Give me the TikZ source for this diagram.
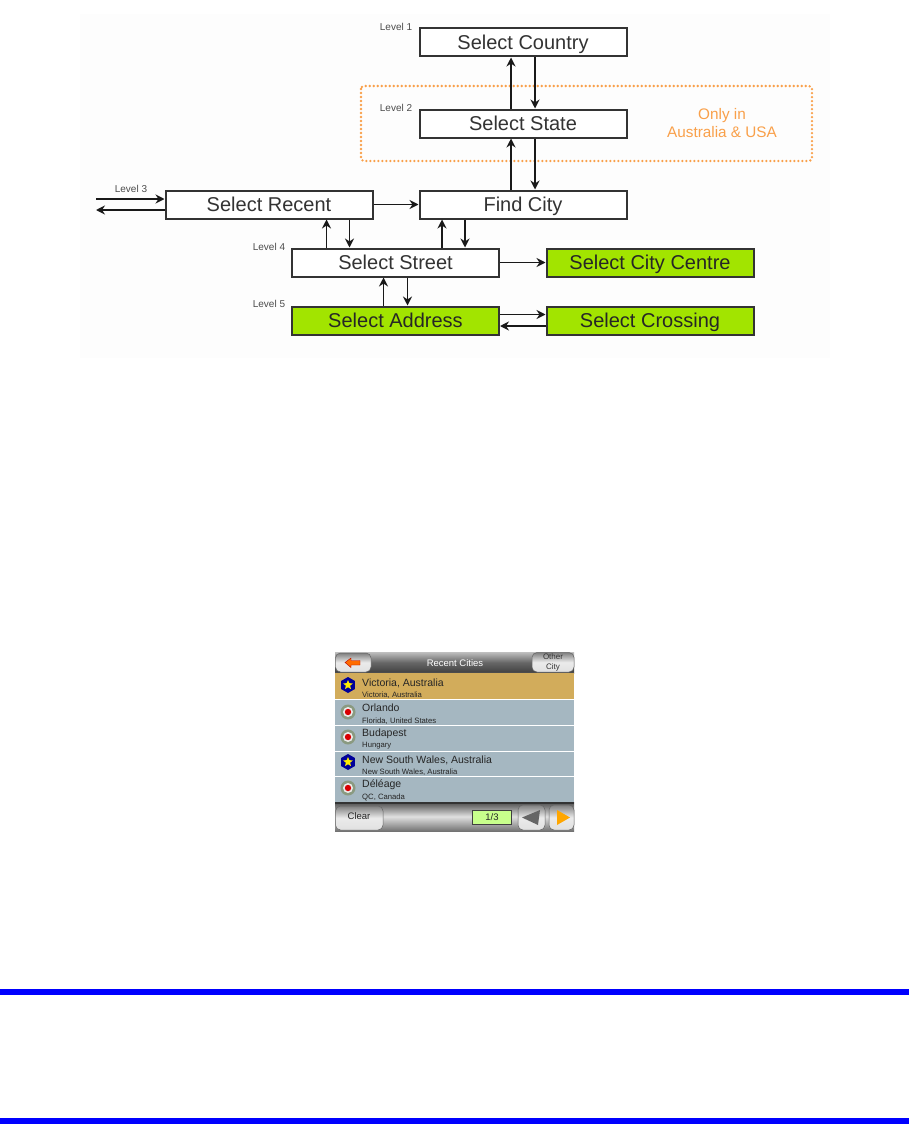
\documentclass[tikz,border=0pt]{standalone}
\usepackage{fontspec}
\setmainfont{Liberation Sans}
\usetikzlibrary{arrows.meta,shapes.geometric}
\definecolor{grn}{HTML}{A2E400}
\definecolor{org}{HTML}{F9A04A}
\definecolor{txt}{HTML}{333333}
\definecolor{rowb}{HTML}{A5B7C1}
\definecolor{rowo}{HTML}{D2AC5B}
\definecolor{ringc}{HTML}{8A9A80}
\definecolor{paper}{HTML}{FDFDFD}
\tikzset{
  box/.style={draw=black!80,line width=2pt,fill=white,minimum width=207pt,minimum height=28pt,inner sep=0pt,text height=18pt,text depth=4pt,font=\fontsize{20}{22}\selectfont,text=txt},
  gbox/.style={box,fill=grn,text=black!85},
  arr/.style={draw=black!90,line width=1.8pt,-{Stealth[length=9pt,width=9pt]}},
  lvl/.style={font=\fontsize{10}{11}\selectfont,text=black!70,inner sep=0pt},
  rowt/.style={anchor=west,inner sep=0pt,font=\fontsize{10.5}{12}\selectfont,text=black!85},
  rows/.style={anchor=west,inner sep=0pt,font=\fontsize{7.7}{9}\selectfont,text=black!85},
  scr/.style={inner sep=0pt,font=\fontsize{9.5}{11}\selectfont},
  btn/.style={draw=black!60,line width=.5pt,rounded corners=5pt,top color=black!50,bottom color=black!12,middle color=black!8},
}
\begin{document}
\begin{tikzpicture}[x=1pt,y=-1pt]
\useasboundingbox (0,0) rectangle (909,1124);
\fill[white] (0,0) rectangle (909,1124);
\fill[paper] (80,14) rectangle (830,358);
% dotted region
\draw[org,line width=2.6pt,line cap=round,dash pattern=on 0pt off 4pt,rounded corners=3pt] (361,86) rectangle (812,161);
\node[font=\fontsize{15.3}{18}\selectfont,text=org,align=center,inner sep=0pt] (only) at (722,123.5) {Only in\\Australia \& USA};
% boxes
\node[box] (country) at (523,42.5) {Select Country};
\node[box] (state) at (523,123.5) {Select State};
\node[box] (find) at (523,204.5) {Find City};
\node[box] (recent) at (269,204.5) {Select Recent};
\node[box] (street) at (395.5,262.5) {Select Street};
\node[gbox] (centre) at (650,262.5) {Select City Centre};
\node[gbox] (address) at (395.5,320.5) {Select Address};
\node[gbox] (crossing) at (650,320.5) {Select Crossing};
% levels
\node[lvl] (l1) at (396,27) {Level 1};
\node[lvl] (l2) at (396,108) {Level 2};
\node[lvl] (l3) at (131,189) {Level 3};
\node[lvl] (l4) at (269,247) {Level 4};
\node[lvl] (l5) at (269,304) {Level 5};
% connectors
\coordinate (in1) at (96,199);
\coordinate (out1) at (96,210);
\draw[arr] (in1) -- (in1 -| recent.west);
\draw[arr] (out1 -| recent.west) -- (out1);
\draw[arr] ([xshift=-12pt]state.north) -- ([xshift=-12pt]country.south);
\draw[arr] ([xshift=12pt]country.south) -- ([xshift=12pt]state.north);
\draw[arr] ([xshift=-12pt]find.north) -- ([xshift=-12pt]state.south);
\draw[arr] ([xshift=12pt]state.south) -- ([xshift=12pt]find.north);
\draw[arr] (recent.east) -- (find.west);
\draw[arr] ([xshift=57.5pt]street.north -| recent.center) -- ([xshift=57.5pt]recent.south);
\draw[arr] ([xshift=80.5pt]recent.south) -- ([xshift=80.5pt]street.north -| recent.center);
\draw[arr] ([xshift=-81pt]street.north -| find.center) -- ([xshift=-81pt]find.south);
\draw[arr] ([xshift=-58pt]find.south) -- ([xshift=-58pt]street.north -| find.center);
\draw[arr] (street.east) -- (centre.west);
\draw[arr] ([xshift=-12pt]address.north) -- ([xshift=-12pt]street.south);
\draw[arr] ([xshift=12pt]street.south) -- ([xshift=12pt]address.north);
\draw[arr] ([yshift=6pt]address.east) -- ([yshift=6pt]crossing.west);
\draw[arr] ([yshift=-5.5pt]crossing.west) -- ([yshift=-5.5pt]address.east);
% screen
\fill[white] (335,652) rectangle (574,831);
\shade[top color=black!25,bottom color=black!75,middle color=black!60] (335,652) rectangle (574,673);
\fill[black!70] (335,671.5) rectangle (574,673);
\node[scr,text=white] (title) at (455,663) {Recent Cities};
\draw[btn] (335.5,653) rectangle (371,672);
\fill[orange!85!red,draw=red!70!black,line width=.4pt] (345,662.5) -- (351,658) -- (351,660.5) -- (360,660.5) -- (360,665) -- (351,665) -- (351,667.5) -- cycle;
\draw[btn] (532,652.5) rectangle (574,672);
\node[scr,font=\fontsize{8}{10}\selectfont,text=black!80,align=center] (other) at (553,662.5) {Other\\City};
% rows
\fill[rowo] (335,673) rectangle (574,699);
\fill[rowb] (335,700) rectangle (574,725);
\fill[rowb] (335,726) rectangle (574,750.5);
\fill[rowb] (335,751.5) rectangle (574,776);
\fill[rowb] (335,777) rectangle (574,802);
\node[rowt] (t1) at (362,683) {Victoria, Australia};
\node[rows] (s1) at (362,695.5) {Victoria, Australia};
\node[rowt] (t2) at (362,708) {Orlando};
\node[rows] (s2) at (362,721) {Florida, United States};
\node[rowt] (t3) at (362,734) {Budapest};
\node[rows] (s3) at (362,746) {Hungary};
\node[rowt] (t4) at (362,760) {New South Wales, Australia};
\node[rows] (s4) at (362,772) {New South Wales, Australia};
\node[rowt] (t5) at (362,785) {Déléage};
\node[rows] (s5) at (362,797.5) {QC, Canada};
% icons
\foreach \yy in {685,762}{
  \node[regular polygon,regular polygon sides=6,rotate=30,fill=blue!60!black,minimum size=16pt,inner sep=0pt] at (348,\yy) {};
  \node[star,star points=5,star point ratio=2.2,fill=yellow!95!orange,minimum size=10pt,inner sep=0pt] at (348,\yy) {};
}
\foreach \yy in {712,737,788}{
  \fill[ringc] (348,\yy) circle (7.5pt);
  \fill[white!85!gray] (348,\yy) circle (5pt);
  \fill[red!85!black] (348,\yy) circle (3.2pt);
}
% bottom bar
\shade[top color=black!70,bottom color=black!55,middle color=black!12] (335,802) rectangle (574,831);
\fill[black!80] (335,802) rectangle (574,803.5);
\draw[btn] (335.5,806) rectangle (383,830);
\node[scr,text=black!85] (clear) at (359,816) {Clear};
\node[draw=black!75,line width=.8pt,fill=green!30!lime!45!white,minimum width=39pt,minimum height=14pt,inner sep=0pt,font=\fontsize{9.5}{11}\selectfont,text=black!85] (page) at (492,817) {1/3};
\draw[btn] (518,805) rectangle (545,830);
\fill[black!60] (522,817.5) -- (540,810) -- (538,825) -- cycle;
\draw[btn] (549,805) rectangle (574,830);
\fill[orange!70!yellow] (557,810) -- (570,817.5) -- (557,825) -- cycle;
% blue bars
\fill[blue] (0,989) rectangle (909,995);
\fill[blue] (0,1118) rectangle (909,1124);
\end{tikzpicture}
\end{document}
